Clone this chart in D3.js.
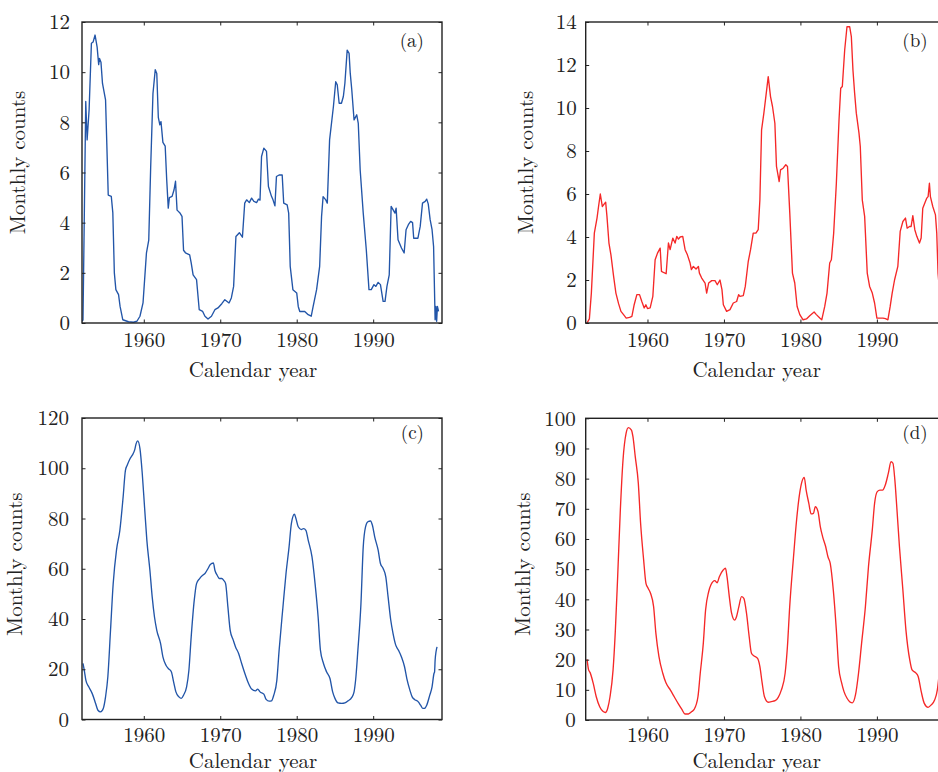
<!DOCTYPE html>
<html>
<head>
<meta charset="utf-8">
<script src="https://cdn.jsdelivr.net/npm/d3@7"></script>
<style>
  html, body { margin: 0; padding: 0; background: #fff; }
  svg { display: block; }
  text { font-family: "Latin Modern Roman", "Liberation Serif", serif; fill: #222; }
</style>
</head>
<body>
<svg id="chart" width="938" height="772"></svg>
<script>
// ---------------- DATA ----------------
const xTickYears = [1960, 1970, 1980, 1990];
const xTitle = "Calendar year";
const yTitle = "Monthly counts";
const panelLabels = ["(a)", "(b)", "(c)", "(d)"];
const yMaxes = [12, 14, 120, 100];
const ySteps = [2, 2, 20, 10];

const aYears = [1951.9,1952.05,1952.41,1952.59,1952.85,1953.15,1953.37,1953.63,1953.9,1954.1,1954.2,1954.4,1954.6,1955.0,1955.15,1955.35,1955.75,1955.95,1956.15,1956.35,1956.7,1956.9,1957.25,1958.0,1958.65,1959.1,1959.5,1959.9,1960.35,1960.65,1960.9,1961.2,1961.5,1961.7,1961.9,1962.1,1962.25,1962.5,1962.8,1963.0,1963.2,1963.35,1963.7,1963.95,1964.15,1964.35,1964.7,1965.0,1965.2,1965.45,1966.0,1966.2,1966.45,1966.9,1967.25,1967.7,1968.0,1968.4,1968.85,1969.3,1969.7,1970.2,1970.6,1971.15,1971.45,1971.75,1972.05,1972.5,1972.9,1973.2,1973.45,1973.8,1974.1,1974.4,1974.75,1975.0,1975.2,1975.4,1975.7,1976.05,1976.3,1976.7,1976.9,1977.15,1977.35,1977.7,1978.1,1978.3,1978.75,1978.95,1979.15,1979.5,1980.0,1980.2,1980.4,1981.05,1981.5,1981.9,1982.15,1982.6,1983.0,1983.25,1983.45,1983.8,1984.0,1984.3,1984.8,1985.1,1985.3,1985.55,1985.85,1986.1,1986.3,1986.6,1986.85,1987.0,1987.2,1987.5,1987.85,1988.05,1988.3,1988.7,1989.1,1989.45,1989.75,1990.1,1990.35,1990.65,1990.95,1991.3,1991.55,1991.8,1992.1,1992.35,1992.65,1992.85,1993.0,1993.25,1993.7,1994.05,1994.3,1994.6,1994.9,1995.15,1995.3,1995.85,1996.15,1996.45,1996.8,1997.0,1997.2,1997.45,1997.7,1997.9,1998.1,1998.2,1998.3,1998.4,1998.55];
const aValues = [0.07,0.12,8.83,7.3,8.5,11.15,11.2,11.48,11.0,10.3,10.55,10.4,9.55,8.9,7.3,5.1,5.05,4.4,2.0,1.33,1.13,0.66,0.13,0.05,0.03,0.07,0.27,0.8,2.8,3.3,6.2,9.15,10.1,9.95,8.2,7.9,8.03,7.2,7.05,5.7,4.58,5.0,5.05,5.3,5.65,4.5,4.4,4.25,2.9,2.8,2.72,2.4,1.92,1.73,0.53,0.46,0.27,0.16,0.27,0.53,0.6,0.77,0.93,0.8,1.0,1.46,3.45,3.6,3.42,4.78,4.91,4.8,4.98,4.85,4.8,4.94,4.9,6.64,6.97,6.84,5.44,5.05,4.91,4.67,5.84,5.9,5.9,4.78,4.71,4.38,2.26,1.33,1.2,0.66,0.46,0.46,0.33,0.27,0.66,1.33,2.26,4.25,5.04,4.91,4.78,7.3,8.63,9.62,9.5,8.76,8.76,9.03,9.56,10.88,10.75,9.96,9.3,8.1,8.3,7.96,6.1,4.38,2.92,1.33,1.33,1.53,1.46,1.62,1.53,0.86,0.86,1.46,1.92,4.65,4.49,4.38,4.58,3.32,2.99,2.79,3.72,3.92,4.05,4.0,3.38,3.38,3.85,4.78,4.85,4.94,4.75,4.12,3.72,3.05,0.13,0.66,0.07,0.66,0.46];

const bYears = [1952.09,1952.4,1952.66,1953.05,1953.4,1953.6,1953.83,1954.09,1954.35,1954.53,1954.7,1954.96,1955.22,1955.57,1955.87,1956.22,1956.53,1956.87,1957.22,1957.66,1957.96,1958.26,1958.61,1958.96,1959.26,1959.57,1959.79,1960.0,1960.35,1960.7,1961.0,1961.31,1961.66,1961.83,1962.09,1962.44,1962.74,1962.96,1963.31,1963.61,1963.83,1964.05,1964.27,1964.61,1964.92,1965.22,1965.57,1965.74,1966.0,1966.35,1966.66,1966.79,1967.09,1967.53,1967.74,1968.0,1968.4,1968.83,1969.13,1969.48,1969.74,1969.92,1970.35,1970.79,1971.22,1971.66,1971.92,1972.09,1972.53,1972.79,1973.18,1973.48,1973.83,1974.18,1974.48,1974.7,1974.92,1975.22,1975.48,1975.79,1976.09,1976.35,1976.66,1976.87,1977.22,1977.4,1977.74,1978.09,1978.31,1978.61,1978.96,1979.26,1979.57,1979.92,1980.35,1980.79,1981.22,1981.79,1982.09,1982.53,1982.79,1983.18,1983.48,1983.83,1984.05,1984.35,1984.7,1985.05,1985.27,1985.48,1985.79,1986.09,1986.44,1986.66,1986.87,1987.09,1987.31,1987.66,1987.83,1988.09,1988.4,1988.74,1989.05,1989.4,1989.7,1990.0,1990.35,1990.79,1991.13,1991.44,1991.74,1992.0,1992.31,1992.74,1993.05,1993.4,1993.74,1993.96,1994.27,1994.48,1994.7,1994.96,1995.22,1995.57,1995.79,1996.0,1996.27,1996.53,1996.7,1996.87,1997.0,1997.31,1997.66,1997.83,1998.0,1998.2];
const bValues = [0,0.19,1.39,4.18,4.88,5.42,6.0,5.42,5.54,5.62,4.96,3.72,3.17,2.17,1.39,0.9,0.54,0.39,0.23,0.26,0.31,0.85,1.32,1.32,1.0,0.7,0.85,0.67,0.7,1.24,2.94,3.25,3.48,2.4,2.35,2.29,3.72,3.41,3.95,3.72,4.03,3.9,4.0,4.03,3.41,3.17,2.79,2.48,2.63,2.51,2.63,2.32,2.09,1.86,1.39,1.86,1.97,1.97,1.78,2.0,1.55,0.85,0.54,0.62,0.93,1.0,1.32,1.24,1.27,1.7,2.87,3.41,4.18,4.18,4.34,5.73,8.98,9.76,10.53,11.46,10.53,10.07,9.29,7.28,6.58,7.12,7.2,7.36,7.28,5.11,2.32,1.86,0.77,0.39,0.15,0.19,0.34,0.51,0.39,0.23,0.15,0.77,1.39,2.79,2.94,4.18,6.5,9.45,10.92,11.0,12.7,13.78,13.78,13.32,11.77,10.69,9.76,8.83,8.21,5.73,4.96,2.32,1.7,1.39,0.93,0.23,0.23,0.23,0.2,0.15,0.77,1.39,2.0,2.63,4.26,4.72,4.88,4.41,4.49,4.49,4.99,4.34,4.03,3.72,3.95,5.34,5.58,5.81,5.88,6.5,5.88,5.42,5.03,4.18,2.3,1.5];

const cYears = [1952.05,1952.25,1952.43,1952.8,1953.26,1953.7,1954.0,1954.35,1954.7,1955.0,1955.3,1955.65,1956.0,1956.43,1956.87,1957.3,1957.6,1957.83,1958.2,1958.5,1958.8,1959.0,1959.2,1959.5,1959.8,1960.1,1960.4,1960.8,1961.1,1961.4,1961.7,1962.2,1962.5,1962.9,1963.2,1963.6,1963.9,1964.2,1964.6,1964.9,1965.2,1965.6,1965.9,1966.2,1966.6,1966.9,1967.3,1967.7,1968.0,1968.4,1968.7,1969.1,1969.3,1969.6,1969.9,1970.2,1970.45,1970.7,1971.0,1971.3,1971.7,1972.0,1972.4,1972.8,1973.3,1973.7,1974.1,1974.6,1974.9,1975.2,1975.7,1976.0,1976.4,1976.7,1977.0,1977.4,1977.7,1978.2,1978.6,1979.0,1979.3,1979.7,1979.9,1980.2,1980.6,1980.9,1981.2,1981.5,1982.0,1982.4,1982.8,1983.1,1983.5,1983.9,1984.35,1984.7,1985.0,1985.4,1985.9,1986.3,1986.7,1987.2,1987.5,1987.7,1988.0,1988.4,1988.7,1989.0,1989.3,1989.65,1989.9,1990.2,1990.65,1990.95,1991.3,1991.65,1991.95,1992.3,1992.6,1992.95,1993.3,1993.7,1994.1,1994.4,1994.8,1995.1,1995.4,1995.9,1996.2,1996.5,1996.7,1997.0,1997.4,1997.7,1997.95,1998.03,1998.1,1998.35];
const cValues = [22.3,19.0,15.6,13.0,10.3,6.4,3.7,3.05,4.4,9.0,17.0,35.5,54.1,67.4,75.3,88.6,99.2,101.2,103.8,105.2,107.2,109.8,110.9,107.8,97.9,84.6,71.4,59.4,48.8,40.8,35.5,30.2,24.9,21.6,20.3,19.0,15.0,11.0,9.0,8.4,9.7,13.0,19.6,32.9,47.5,54.1,56.1,57.4,58.1,60.1,61.7,62.3,59.4,57.4,56.1,56.1,55.4,54.1,44.8,35.5,31.6,28.9,26.3,22.3,17.6,14.3,12.1,11.4,12.1,11.0,10.1,8.0,7.3,7.4,9.7,15.6,27.6,44.8,58.1,68.7,78.0,81.7,80.0,76.7,75.6,76.0,75.3,71.4,64.7,54.1,40.8,27.6,22.3,19.0,16.3,11.0,8.4,6.6,6.4,6.6,7.4,8.8,11.0,15.6,27.6,46.1,68.7,76.7,78.7,79.0,77.3,72.7,67.4,62.1,60.1,56.8,48.8,39.5,34.2,29.6,27.6,24.9,21.0,16.3,11.7,9.0,8.0,7.0,5.7,4.4,4.4,5.7,9.7,13.0,18.3,19.0,23.6,28.9];

const dYears = [1952.1,1952.3,1952.5,1952.9,1953.3,1953.75,1954.2,1954.5,1954.8,1955.1,1955.5,1955.8,1956.1,1956.45,1956.8,1957.2,1957.5,1957.9,1958.1,1958.4,1958.8,1959.1,1959.5,1959.8,1960.1,1960.4,1960.8,1961.1,1961.5,1962.0,1962.4,1963.0,1963.5,1964.0,1964.5,1964.9,1965.35,1965.8,1966.1,1966.6,1966.9,1967.3,1967.6,1968.0,1968.3,1968.8,1969.1,1969.4,1969.9,1970.2,1970.4,1970.7,1971.0,1971.4,1971.65,1971.95,1972.3,1972.6,1972.95,1973.3,1973.6,1973.9,1974.4,1974.7,1975.0,1975.3,1975.8,1976.2,1976.7,1977.1,1977.5,1978.0,1978.3,1978.6,1979.1,1979.5,1979.9,1980.2,1980.5,1980.75,1981.1,1981.4,1981.7,1981.95,1982.3,1982.6,1982.9,1983.3,1983.6,1983.9,1984.3,1984.7,1985.0,1985.4,1985.7,1986.1,1986.5,1986.8,1987.2,1987.6,1988.0,1988.5,1988.9,1989.4,1989.7,1990.05,1990.4,1990.75,1991.1,1991.5,1991.85,1992.1,1992.35,1992.6,1992.95,1993.4,1993.8,1994.3,1994.6,1995.05,1995.4,1995.8,1996.2,1996.7,1997.1,1997.55,1997.9,1998.2];
const dValues = [20.1,16.6,15.7,12.2,7.7,4.4,2.8,2.5,3.9,7.7,16.6,29.8,47.5,69.6,86.2,95.0,96.9,96.1,93.9,87.3,78.5,65.2,53.0,45.3,43.6,42.0,37.6,28.7,21.0,15.5,12.4,9.9,7.7,5.5,3.5,2.0,2.0,2.8,3.5,7.7,15.5,25.4,36.5,42.5,44.8,46.2,45.5,47.5,49.7,50.3,47.5,40.9,35.4,33.1,34.3,37.6,40.9,40.3,35.4,27.6,22.1,21.3,20.4,17.7,12.2,7.7,5.9,6.1,6.4,7.5,9.9,15.5,24.3,37.6,54.1,66.3,75.1,79.0,80.4,76.2,71.8,68.3,68.5,70.7,69.1,64.1,60.8,57.5,54.1,51.9,43.1,29.8,17.7,12.2,9.4,7.2,5.9,5.7,8.3,15.5,25.4,37.6,50.8,63.0,71.8,75.7,76.2,76.2,77.9,81.8,85.6,85.1,79.6,70.7,57.5,43.1,29.8,19.9,16.6,15.7,14.4,9.4,5.5,4.2,5.0,6.6,9.9,16.6];

// ---------------- LAYOUT ----------------
const BLUE = "#2255a8", RED = "#f52828";
const W = 360;
const FONT = '"Latin Modern Roman", "Liberation Serif", serif';
const FS = 21;
const panels = [
  {years:aYears, values:aValues, color:BLUE, left:82,    top:22,    bottom:323,   yLabOff:12, xLabOff:23.7, yTitleX:24.7,  yTitleY:162.5, xTitleY:377,   labY:47,    smooth:false},
  {years:bYears, values:bValues, color:RED,  left:585.7, top:22,    bottom:323,   yLabOff:9,  xLabOff:23.7, yTitleX:532.7, yTitleY:162.5, xTitleY:377,   labY:47,    smooth:false},
  {years:cYears, values:cValues, color:BLUE, left:82,    top:418,   bottom:719.5, yLabOff:13, xLabOff:22.3, yTitleX:21.5,  yTitleY:564.2, xTitleY:767.7, labY:438.6, smooth:true},
  {years:dYears, values:dValues, color:RED,  left:585.7, top:418.3, bottom:720,   yLabOff:10, xLabOff:22.3, yTitleX:529.7, yTitleY:564.2, xTitleY:767.7, labY:438.8, smooth:true}
];

const svg = d3.select("#chart");

panels.forEach((p, i) => {
  const x = d3.scaleLinear().domain([1951.92, 1999]).range([p.left, p.left + W]);
  const y = d3.scaleLinear().domain([0, yMaxes[i]]).range([p.bottom, p.top]);
  const yTicks = d3.range(0, yMaxes[i] + 1e-9, ySteps[i]);
  const g = svg.append("g");

  const cid = "clip" + i;
  svg.append("clipPath").attr("id", cid).append("rect")
    .attr("x", p.left).attr("y", p.top - 2).attr("width", W).attr("height", p.bottom - p.top + 2);

  const line = d3.line()
    .x((d, k) => x(p.years[k]))
    .y(d => y(d))
    .curve(p.smooth ? d3.curveMonotoneX : d3.curveLinear);
  g.append("path")
    .attr("clip-path", `url(#${cid})`)
    .attr("d", line(p.values))
    .attr("fill", "none")
    .attr("stroke", p.color)
    .attr("stroke-width", 1.35)
    .attr("stroke-linejoin", "round");

  const styleAxis = sel => {
    sel.attr("font-family", null).attr("font-size", null);
    sel.select(".domain").remove();
    sel.selectAll(".tick line").attr("stroke", "#222").attr("stroke-width", 1);
    sel.selectAll("text").style("font-family", FONT).style("font-size", FS + "px").attr("fill", "#222");
  };
  const bottomAx = g.append("g").attr("transform", `translate(0,${p.bottom})`)
    .call(d3.axisBottom(x).tickValues(xTickYears).tickFormat(d3.format("d")).tickSize(-3.5).tickPadding(0))
    .call(styleAxis);
  bottomAx.selectAll("text").attr("y", p.xLabOff).attr("dy", null);
  g.append("g").attr("transform", `translate(0,${p.top})`)
    .call(d3.axisTop(x).tickValues(xTickYears).tickFormat("").tickSize(-3.5))
    .call(styleAxis);
  const leftAx = g.append("g").attr("transform", `translate(${p.left},0)`)
    .call(d3.axisLeft(y).tickValues(yTicks).tickFormat(d3.format("d")).tickSize(-3.5).tickPadding(0))
    .call(styleAxis);
  leftAx.selectAll("text").attr("x", -p.yLabOff).attr("dy", "0.32em");
  g.append("g").attr("transform", `translate(${p.left + W},0)`)
    .call(d3.axisRight(y).tickValues(yTicks).tickFormat("").tickSize(-3.5))
    .call(styleAxis);

  g.append("rect")
    .attr("x", p.left).attr("y", p.top).attr("width", W).attr("height", p.bottom - p.top)
    .attr("fill", "none").attr("stroke", "#222").attr("stroke-width", 1.4);

  g.append("text")
    .attr("x", p.left + 171).attr("y", p.xTitleY)
    .attr("text-anchor", "middle")
    .style("font-size", FS + "px")
    .text(xTitle);
  g.append("text")
    .attr("transform", `translate(${p.yTitleX},${p.yTitleY}) rotate(-90)`)
    .attr("text-anchor", "middle")
    .style("font-size", FS + "px")
    .text(yTitle);
  g.append("text")
    .attr("x", p.left + W - 18).attr("y", p.labY)
    .attr("text-anchor", "end")
    .style("font-size", "19px")
    .text(panelLabels[i]);
});
</script>
</body>
</html>
